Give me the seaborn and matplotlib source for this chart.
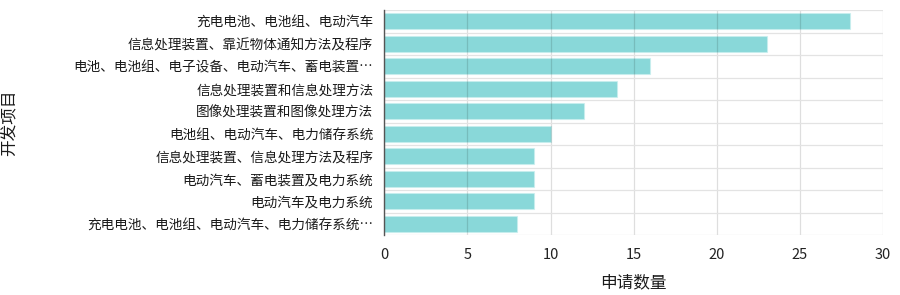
import numpy as np
import pandas as pd
import matplotlib
matplotlib.use("Agg")
import matplotlib.pyplot as plt
import seaborn as sns

# data
projects = [
    "充电电池、电池组、电动汽车",
    "信息处理装置、靠近物体通知方法及程序",
    "电池、电池组、电子设备、电动汽车、蓄电装置…",
    "信息处理装置和信息处理方法",
    "图像处理装置和图像处理方法",
    "电池组、电动汽车、电力储存系统",
    "信息处理装置、信息处理方法及程序",
    "电动汽车、蓄电装置及电力系统",
    "电动汽车及电力系统",
    "充电电池、电池组、电动汽车、电力储存系统…",
]
counts = [28, 23, 16, 14, 12, 10, 9, 9, 9, 8]
xticks = [0, 5, 10, 15, 20, 25, 30]

df = pd.DataFrame({"项目": projects, "数量": counts})

sns.set_style("white")
plt.rcParams["font.family"] = ["Noto Sans CJK SC", "DejaVu Sans"]

fig, ax = plt.subplots(figsize=(9, 2.95), dpi=100)
fig.subplots_adjust(left=0.427, right=0.981, top=0.966, bottom=0.203)

sns.barplot(data=df, y="项目", x="数量", orient="h", color="#5ccacb",
            saturation=1, alpha=0.72, width=0.72, edgecolor="#c8eeee",
            linewidth=0.8, ax=ax, zorder=1)

ax.set_xlim(0, 30)
ax.set_ylim(len(projects) - 0.5, -0.5)
ax.set_xticks(xticks)
ax.set_xticklabels([str(t) for t in xticks], fontsize=10.5, color="#222222")
ax.tick_params(axis="x", length=4, color="#d9d9d9", pad=5)

# band separators on minor ticks
ax.set_yticks(np.arange(-0.5, len(projects), 1), minor=True)
ax.tick_params(axis="y", which="major", length=0, labelsize=9.8, labelcolor="#1a1a1a", pad=8)
ax.tick_params(axis="y", which="minor", length=6, color="#e0e0e0")

ax.grid(axis="x", which="major", color="#000000", alpha=0.13, linewidth=0.9, zorder=3)
ax.grid(axis="y", which="minor", color="#e3e3e3", linewidth=0.9)
ax.set_axisbelow(False)

for s in ["top", "right", "bottom"]:
    ax.spines[s].set_visible(False)
ax.spines["left"].set_color("#555555")
ax.spines["left"].set_linewidth(1)
ax.spines["left"].set_zorder(4)

ax.set_xlabel("申请数量", fontsize=12, color="#1a1a1a", labelpad=9)
ax.set_ylabel("开发项目", fontsize=12, color="#1a1a1a")
ax.yaxis.set_label_coords(-0.735, 0.5)

fig.savefig("out.png", dpi=100)
